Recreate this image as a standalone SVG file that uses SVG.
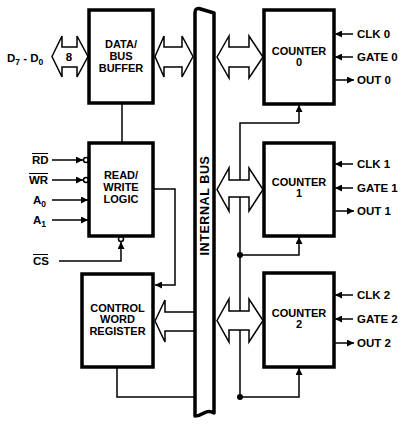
<svg xmlns="http://www.w3.org/2000/svg" width="403" height="429" viewBox="0 0 403 429">
<defs>
<style>
.box{fill:#fff;stroke:#000;stroke-width:3.5}
.ln{fill:none;stroke:#000;stroke-width:1.5}
.dbl{fill:#fff;stroke:#000;stroke-width:1.5;stroke-linejoin:miter}
.bus{fill:#fff;stroke:#000;stroke-width:3.5;stroke-linejoin:round}
text{font-family:"Liberation Sans",Arial,sans-serif;font-weight:bold;font-size:11.5px;fill:#000}
.c{text-anchor:middle}
.b{font-size:11px}
.s{font-size:8.5px}
.bt{font-size:12.5px;letter-spacing:0.6px}
</style>
<marker id="ah" viewBox="0 0 10 10" refX="10" refY="5" markerWidth="7" markerHeight="7" markerUnits="userSpaceOnUse" orient="auto">
<path d="M0,0 L10,5 L0,10 z" fill="#000"/>
</marker>
</defs>

<g id="connectors">
<line class="ln" x1="122" y1="103" x2="122" y2="143"/>
<polyline class="ln" points="153,189 175,189 175,285 155,285" marker-end="url(#ah)"/>
<polyline class="ln" points="59,261 121,261 121,242" marker-end="url(#ah)"/>
<circle cx="121" cy="239" r="2.5" fill="#fff" stroke="#000" stroke-width="1.5"/>
<line class="ln" x1="52" y1="160" x2="83" y2="160" marker-end="url(#ah)"/>
<circle cx="86" cy="160" r="2.5" fill="#fff" stroke="#000" stroke-width="1.5"/>
<line class="ln" x1="52" y1="180" x2="83" y2="180" marker-end="url(#ah)"/>
<circle cx="86" cy="180" r="2.5" fill="#fff" stroke="#000" stroke-width="1.5"/>
<line class="ln" x1="52" y1="200" x2="88" y2="200" marker-end="url(#ah)"/>
<line class="ln" x1="52" y1="220" x2="88" y2="220" marker-end="url(#ah)"/>
<polyline class="ln" points="117,367 117,397 194,397"/>
<polyline class="ln" points="299,123 240,123 240,397"/>
<line class="ln" x1="299" y1="123" x2="299" y2="105" marker-end="url(#ah)"/>
<polyline class="ln" points="240,255 299,255 299,237" marker-end="url(#ah)"/>
<polyline class="ln" points="240,397 299,397 299,368" marker-end="url(#ah)"/>
<circle cx="240" cy="255" r="3"/>
<circle cx="240" cy="397" r="3"/>
<line class="ln" x1="353" y1="34" x2="335" y2="34" marker-end="url(#ah)"/>
<line class="ln" x1="353" y1="57" x2="335" y2="57" marker-end="url(#ah)"/>
<line class="ln" x1="335" y1="80" x2="354" y2="80" marker-end="url(#ah)"/>
<line class="ln" x1="353" y1="164" x2="335" y2="164" marker-end="url(#ah)"/>
<line class="ln" x1="353" y1="188" x2="335" y2="188" marker-end="url(#ah)"/>
<line class="ln" x1="335" y1="211" x2="354" y2="211" marker-end="url(#ah)"/>
<line class="ln" x1="353" y1="295" x2="335" y2="295" marker-end="url(#ah)"/>
<line class="ln" x1="353" y1="319" x2="335" y2="319" marker-end="url(#ah)"/>
<line class="ln" x1="335" y1="343" x2="354" y2="343" marker-end="url(#ah)"/>
<path class="dbl" d="M52,56.5 L62,36 L62,47 L77,47 L77,36 L88,56.5 L77,77 L77,67 L62,67 L62,77 Z"/>
<path class="dbl" d="M155,56.5 L164,36 L164,47 L182,47 L182,36 L193,56.5 L182,77 L182,67 L164,67 L164,77 Z"/>
<path class="dbl" d="M217,57 L229,36 L229,47 L249,47 L249,36 L263,57 L249,78 L249,67 L229,67 L229,78 Z"/>
<path class="dbl" d="M217,189.5 L229,168 L229,180 L249,180 L249,168 L263,189.5 L249,211 L249,197 L229,197 L229,211 Z"/>
<path class="dbl" d="M217,320.5 L229,299 L229,311 L249,311 L249,299 L263,320.5 L249,342 L249,330 L229,330 L229,342 Z"/>
<path class="dbl" d="M155,321 L165,300 L165,312 L194,312 M194,331 L165,331 L165,342 L155,321"/>
</g>

<g id="bus">
<path class="bus" d="M195,416 L195,13 Q195,8 199,8.5 L214,13 L214,413 Q209,410 204,413 Q199,416 195,416 Z"/>
<text class="c bt" transform="translate(209,205.5) rotate(-90)">INTERNAL BUS</text>
</g>

<g id="data-bus-buffer">
<rect class="box" x="89" y="10" width="64" height="93"/>
<text class="c b" x="121" y="48">DATA/</text>
<text class="c b" x="121" y="60">BUS</text>
<text class="c b" x="121" y="72">BUFFER</text>
</g>

<g id="read-write-logic">
<rect class="box" x="89" y="143" width="64" height="93"/>
<text class="c b" x="121" y="179">READ/</text>
<text class="c b" x="121" y="191">WRITE</text>
<text class="c b" x="121" y="203">LOGIC</text>
</g>

<g id="control-word-register">
<rect class="box" x="82" y="274" width="71" height="93"/>
<text class="c b" x="117.5" y="311.5">CONTROL</text>
<text class="c b" x="117.5" y="323">WORD</text>
<text class="c b" x="117.5" y="334.5">REGISTER</text>
</g>

<g id="counter0">
<rect class="box" x="264" y="10" width="70" height="94"/>
<text class="c b" x="299" y="54.5">COUNTER</text>
<text class="c b" x="299" y="66">0</text>
</g>
<g id="counter1">
<rect class="box" x="264" y="143" width="70" height="93"/>
<text class="c b" x="299" y="185.5">COUNTER</text>
<text class="c b" x="299" y="197">1</text>
</g>
<g id="counter2">
<rect class="box" x="264" y="273" width="70" height="94"/>
<text class="c b" x="299" y="316.5">COUNTER</text>
<text class="c b" x="299" y="328">2</text>
</g>

<g id="labels">
<text x="7" y="62">D<tspan class="s" dy="2.5">7</tspan><tspan dy="-2.5"> - D</tspan><tspan class="s" dy="2.5">0</tspan></text>
<text class="c" x="69" y="61">8</text>
<text x="32" y="164">RD</text>
<line x1="32" y1="153.5" x2="48" y2="153.5" stroke="#000" stroke-width="1"/>
<text x="29" y="184">WR</text>
<line x1="29" y1="173.5" x2="48" y2="173.5" stroke="#000" stroke-width="1"/>
<text x="33" y="204">A<tspan class="s" dy="2.5">0</tspan></text>
<text x="33" y="224">A<tspan class="s" dy="2.5">1</tspan></text>
<text x="33" y="265">CS</text>
<line x1="33" y1="254.5" x2="48" y2="254.5" stroke="#000" stroke-width="1"/>
<text x="357" y="38">CLK 0</text>
<text x="357" y="61">GATE 0</text>
<text x="357" y="84">OUT 0</text>
<text x="357" y="168">CLK 1</text>
<text x="357" y="192">GATE 1</text>
<text x="357" y="215">OUT 1</text>
<text x="357" y="299">CLK 2</text>
<text x="357" y="323">GATE 2</text>
<text x="357" y="347">OUT 2</text>
</g>
</svg>
